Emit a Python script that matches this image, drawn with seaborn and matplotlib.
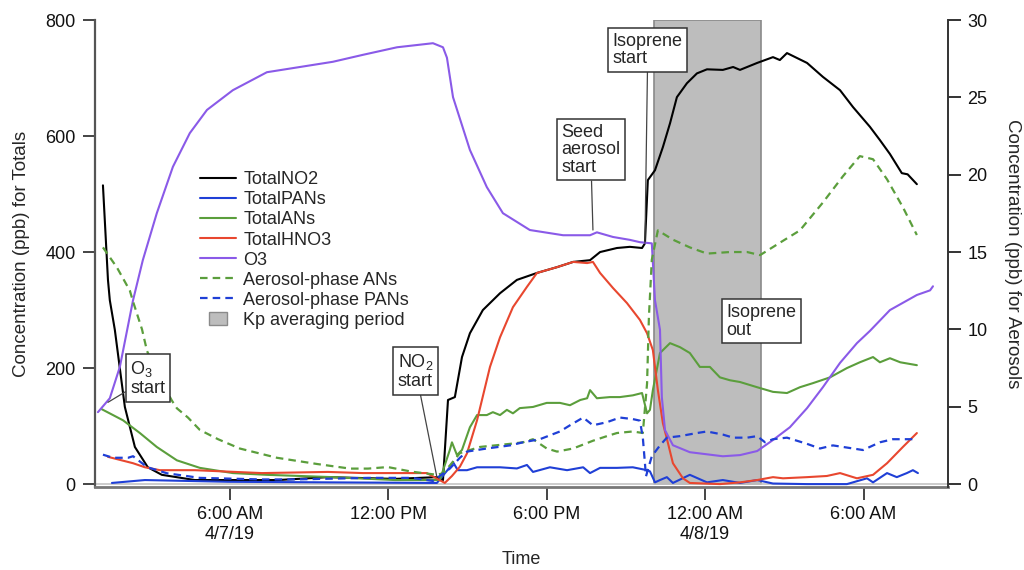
import matplotlib
matplotlib.use("Agg")
import matplotlib.pyplot as plt
import matplotlib.dates as mdates
from matplotlib.patches import Patch, Rectangle
from matplotlib.legend_handler import HandlerPatch
import pandas as pd
import seaborn as sns

START = pd.Timestamp("2019-04-07 00:00")

# hours after midnight 4/7/19 and values
# left axis (ppb, totals)
o3_h = [1.00, 1.45, 1.83, 2.33, 2.70, 3.23, 3.84, 4.48, 5.13, 6.11, 7.40, 8.65, 9.90, 11.04, 12.33,
        13.69, 14.07, 14.22, 14.45, 15.09, 15.73, 16.34, 17.36, 18.62, 19.64, 19.90, 20.51, 21.15, 21.53,
        21.98, 22.10, 22.29, 22.36, 22.48, 22.78, 23.42, 24.67, 25.32, 25.97, 26.57, 27.21, 27.86,
        28.46, 29.11, 29.75, 30.24, 31.00, 32.02, 32.52, 32.63]
o3 = [124, 148, 202, 317, 386, 467, 547, 605, 645, 679, 710, 719, 728, 740, 753,
      760, 753, 735, 667, 576, 512, 467, 438, 429, 429, 434, 426, 421, 417,
      415, 317, 266, 150, 93, 67, 55, 48, 50, 57, 76, 98, 131,
      167, 209, 243, 264, 300, 326, 334, 341]

no2_h = [1.19, 1.38, 1.45, 1.64, 2.02, 2.40, 2.89, 3.42, 4.67, 7.82, 9.71, 12.25, 13.84, 14.07, 14.26,
         14.52, 14.79, 15.09, 15.58, 16.23, 16.87, 17.63, 18.39, 19.00, 19.64, 20.02, 20.66, 21.15,
         21.61, 21.72, 21.83, 22.10, 22.40, 22.67, 22.93, 23.31, 23.69, 24.07, 24.67, 25.06, 25.32,
         25.97, 26.57, 26.83, 27.10, 27.86, 28.46, 29.11, 29.60, 30.24, 30.62, 31.00, 31.45, 31.67, 32.02]
no2 = [515, 352, 317, 266, 133, 64, 29, 16, 7, 7, 12, 9, 12, 7, 145,
       150, 219, 260, 300, 329, 352, 364, 374, 383, 386, 400, 407, 409,
       407, 415, 524, 541, 581, 622, 667, 691, 708, 715, 714, 719, 714,
       726, 736, 731, 743, 726, 702, 679, 650, 616, 593, 569, 536, 534, 517]

pan_h = [1.53, 2.78, 5.92, 9.79, 13.84, 14.33, 14.45, 14.63, 14.98, 15.36, 16.23, 16.87, 17.25, 17.48,
         18.12, 18.77, 19.38, 19.64, 20.02, 20.66, 21.26, 21.80, 21.91, 22.10, 22.29, 22.55, 22.78,
         23.42, 24.07, 24.67, 25.32, 25.97, 26.57, 27.86, 29.37, 30.13, 30.36, 30.89, 31.26, 31.64,
         31.87, 32.06]
pan = [2, 7, 4, 3, 2, 29, 38, 24, 24, 29, 29, 27, 33, 21,
       29, 24, 29, 19, 28, 28, 29, 24, 22, 3, 7, 12, 2,
       16, 3, 7, 2, 7, 1, 0, 0, 10, 3, 19, 12, 19,
       24, 19]

an_h = [1.15, 1.95, 2.59, 3.23, 3.99, 4.86, 6.11, 7.40, 9.90, 12.25, 13.95, 14.33, 14.41, 14.60, 14.79,
        15.09, 15.36, 15.73, 15.96, 16.23, 16.49, 16.72, 16.98, 17.48, 18.00, 18.50, 18.88, 19.27,
        19.53, 19.64, 19.90, 20.39, 20.77, 21.26, 21.61, 21.80, 21.91, 22.02, 22.29, 22.67, 23.05,
        23.42, 23.80, 24.18, 24.56, 24.94, 25.32, 25.97, 26.57, 27.10, 27.59, 28.08, 28.73, 29.37,
        29.86, 30.36, 30.62, 31.00, 31.39, 32.02]
an = [129, 110, 88, 64, 41, 28, 19, 16, 12, 7, 7, 59, 72, 50, 59,
      98, 119, 119, 124, 119, 128, 122, 131, 133, 140, 140, 136, 145,
      148, 162, 148, 150, 150, 153, 157, 122, 128, 162, 226, 243, 236,
      226, 202, 202, 184, 179, 176, 167, 159, 157, 167, 174, 184, 200,
      210, 219, 210, 217, 210, 205]

hno3_h = [1.38, 2.33, 2.78, 3.35, 4.67, 7.21, 9.71, 11.04, 13.46, 14.14, 14.41, 14.71, 14.98, 15.36,
          15.85, 16.23, 16.72, 17.25, 17.63, 18.39, 19.00, 19.53, 19.75, 20.02, 20.51, 21.04, 21.53,
          21.80, 22.02, 22.21, 22.40, 22.59, 22.78, 23.16, 23.42, 23.98, 24.56, 25.32, 25.97, 26.57,
          26.95, 27.86, 28.61, 29.11, 29.75, 30.36, 30.89, 31.49, 32.02]
hno3 = [47, 36, 29, 24, 24, 19, 21, 19, 19, 2, 14, 30, 53, 110,
        202, 253, 305, 340, 364, 374, 383, 381, 383, 364, 338, 312, 283,
        260, 231, 162, 105, 71, 36, 10, 2, 1, 0, 3, 7, 12,
        10, 12, 14, 19, 10, 16, 36, 64, 88]

# right axis (ppb, aerosols)
aan_h = [1.19, 1.72, 1.95, 2.21, 2.33, 2.67, 2.86, 3.35, 3.80, 3.99, 4.41, 4.86, 5.55, 6.37, 7.78,
         9.29, 10.55, 11.23, 11.98, 12.89, 13.84, 14.07, 14.33, 14.71, 15.47, 16.61, 17.10, 17.48,
         18.00, 18.39, 19.00, 19.75, 20.28, 20.66, 21.26, 21.64, 21.80, 21.87, 21.98, 22.21, 22.78,
         23.42, 24.07, 24.94, 25.59, 26.08, 26.83, 27.59, 28.46, 29.22, 29.86, 30.36, 30.89, 31.49, 32.02]
aan = [15.3, 14.0, 13.3, 12.5, 11.8, 10.0, 8.6, 6.8, 5.4, 4.9, 4.3, 3.5, 2.9, 2.3, 1.7,
       1.3, 1.0, 1.0, 1.1, 0.8, 0.6, 0.7, 1.2, 2.0, 2.4, 2.6, 2.7, 2.9,
       2.3, 2.1, 2.3, 2.8, 3.1, 3.3, 3.4, 3.3, 6.5, 10.8, 14.5, 16.4, 15.8,
       15.3, 14.9, 15.0, 15.0, 14.8, 15.6, 16.4, 18.2, 19.9, 21.2, 21.0, 19.7, 17.9, 16.1]

apan_h = [1.19, 1.57, 2.14, 2.33, 2.86, 3.61, 4.86, 7.21, 8.46, 11.23, 12.89, 13.69, 14.33, 14.71,
          14.98, 15.73, 16.61, 17.10, 17.74, 18.50, 18.88, 19.38, 19.75, 20.28, 20.77, 21.26, 21.53,
          21.64, 21.76, 21.98, 22.29, 22.55, 23.05, 23.69, 24.07, 24.67, 25.06, 25.59, 25.97, 26.27,
          26.57, 27.10, 27.86, 28.35, 28.84, 29.60, 29.98, 30.62, 31.11, 32.02]
apan = [1.9, 1.7, 1.7, 1.8, 1.1, 0.7, 0.4, 0.3, 0.3, 0.4, 0.4, 0.2, 1.0, 1.7,
        2.1, 2.3, 2.5, 2.7, 2.9, 3.4, 3.8, 4.3, 3.8, 4.0, 4.3, 4.2, 4.1,
        3.0, 0.5, 1.8, 2.5, 3.0, 3.1, 3.3, 3.4, 3.2, 3.0, 3.0, 3.1, 2.7,
        2.9, 3.0, 2.6, 2.3, 2.5, 2.3, 2.2, 2.7, 2.9, 2.9]

# Kp averaging period
kp_h = [22.05, 26.10]
kp_top = 800

tick_h = [6, 12, 18, 24, 30]
tick_labels = ["6:00 AM\n4/7/19", "12:00 PM", "6:00 PM", "12:00 AM\n4/8/19", "6:00 AM"]

legend_order = ["TotalNO2", "TotalPANs", "TotalANs", "TotalHNO3", "O3",
                "Aerosol-phase ANs", "Aerosol-phase PANs", "Kp averaging period"]

KP_FACE = "#bdbdbd"
KP_EDGE = "#8a8a8a"


def frame(hours, values):
    return pd.DataFrame({"time": START + pd.to_timedelta(hours, unit="h"), "value": values})


def small_box(legend, orig_handle, xdescent, ydescent, width, height, fontsize):
    # the Kp swatch is a small square, not a full-width bar
    return Rectangle((-xdescent + 0.26 * width, -ydescent), 0.5 * width, 1.0 * height)


sns.set_style("ticks")
plt.rcParams["font.family"] = ["Liberation Sans", "DejaVu Sans"]
plt.rcParams["mathtext.fontset"] = "custom"
plt.rcParams["mathtext.rm"] = "Liberation Sans"
plt.rcParams["mathtext.it"] = "Liberation Sans:italic"

fig = plt.figure(figsize=(10.24, 5.7), dpi=100)
ax = fig.add_axes([0.0928, 0.1456, 0.833, 0.8193])
ax2 = ax.twinx()

kp_times = START + pd.to_timedelta(kp_h, unit="h")
ax.fill_between(kp_times, 0, kp_top, facecolor=KP_FACE, edgecolor=KP_EDGE,
                linewidth=1.2, zorder=0.5)
ax.axhline(0, color="#c4c4c4", lw=1.2, zorder=0.6)

totals = [
    ("TotalNO2", no2_h, no2, "black"),
    ("TotalPANs", pan_h, pan, "#1f3fd6"),
    ("TotalANs", an_h, an, "#5b9e3c"),
    ("TotalHNO3", hno3_h, hno3, "#e8472f"),
    ("O3", o3_h, o3, "#8a5ae8"),
]
for name, h, v, c in totals:
    sns.lineplot(data=frame(h, v), x="time", y="value", ax=ax, color=c, linewidth=1.5,
                 estimator=None, sort=False, label=name)

aerosols = [
    ("Aerosol-phase ANs", aan_h, aan, "#5b9e3c"),
    ("Aerosol-phase PANs", apan_h, apan, "#1f3fd6"),
]
for name, h, v, c in aerosols:
    sns.lineplot(data=frame(h, v), x="time", y="value", ax=ax2, color=c, linewidth=1.6,
                 linestyle=(0, (3.4, 2.3)), estimator=None, sort=False, label=name)

for a in (ax, ax2):
    if a.get_legend() is not None:
        a.get_legend().remove()

ax.set_xlim(START + pd.Timedelta(hours=0.89), START + pd.Timedelta(hours=33.2))
ax.set_ylim(-5, 800)
ax2.set_ylim(-0.19, 30)
ax.set_yticks([0, 200, 400, 600, 800])
ax2.set_yticks([0, 5, 10, 15, 20, 25, 30])
ax.set_xticks(START + pd.to_timedelta(tick_h, unit="h"))
ax.set_xticklabels(tick_labels)

ax.set_xlabel("Time", fontsize=13, labelpad=6)
ax.set_ylabel("Concentration (ppb) for Totals", fontsize=13.5, labelpad=11)
ax2.set_ylabel("Concentration (ppb) for Aerosols", fontsize=13.5, rotation=270,
               va="bottom", labelpad=12)

ax.spines["top"].set_visible(False)
ax.spines["right"].set_visible(False)
for s in ("top", "left", "bottom"):
    ax2.spines[s].set_visible(False)
ax.spines["left"].set_color("#555555")
ax.spines["left"].set_linewidth(1.6)
ax.spines["bottom"].set_color("#777777")
ax.spines["bottom"].set_linewidth(2.0)
ax2.spines["right"].set_color("#333333")
ax2.spines["right"].set_linewidth(1.4)

ax.tick_params(axis="both", direction="out", length=9, width=1.4, color="#444444",
               labelsize=13, pad=5, labelcolor="#111111")
ax2.tick_params(axis="y", direction="out", length=9, width=1.4, color="#333333",
                labelsize=13, pad=5, labelcolor="#111111")

# legend, both axes plus the shaded period
h1, l1 = ax.get_legend_handles_labels()
h2, l2 = ax2.get_legend_handles_labels()
lookup = dict(zip(l1 + l2, h1 + h2))
kp_proxy = Patch(facecolor=KP_FACE, edgecolor=KP_EDGE, linewidth=1.0)
lookup["Kp averaging period"] = kp_proxy
ax2.legend([lookup[k] for k in legend_order], legend_order, loc="upper left",
           bbox_to_anchor=(0.123, 0.676), frameon=False, fontsize=13,
           handlelength=2.0, handletextpad=0.4, labelspacing=0.17,
           borderpad=0, borderaxespad=0,
           handler_map={kp_proxy: HandlerPatch(patch_func=small_box)})

# event annotations
box = dict(boxstyle="square,pad=0.25", fc="white", ec="#333333", lw=1.1)
line = dict(arrowstyle="-", color="#444444", lw=0.9, shrinkA=0, shrinkB=0)
notes = [
    ("O$_3$\nstart", 1.38, 141, (0.062, 0.233)),
    ("NO$_2$\nstart", 13.84, 12, (0.376, 0.248)),
    ("Seed\naerosol\nstart", 19.75, 438, (0.581, 0.722)),
    ("Isoprene\nstart", 21.72, 416, (0.648, 0.936)),
]
for text, h, v, pos in notes:
    xy = (mdates.date2num(START + pd.Timedelta(hours=h)), v)
    ax2.annotate(text, xy=xy, xycoords=ax.transData, xytext=pos, textcoords="axes fraction",
                 ha="center", va="center", multialignment="left", fontsize=13,
                 linespacing=1.05, bbox=box, arrowprops=line, zorder=10)
ax2.text(0.781, 0.355, "Isoprene\nout", transform=ax2.transAxes, ha="center", va="center",
         multialignment="left", fontsize=13, linespacing=1.05, bbox=box, zorder=10)

fig.savefig("out.png", dpi=100)
